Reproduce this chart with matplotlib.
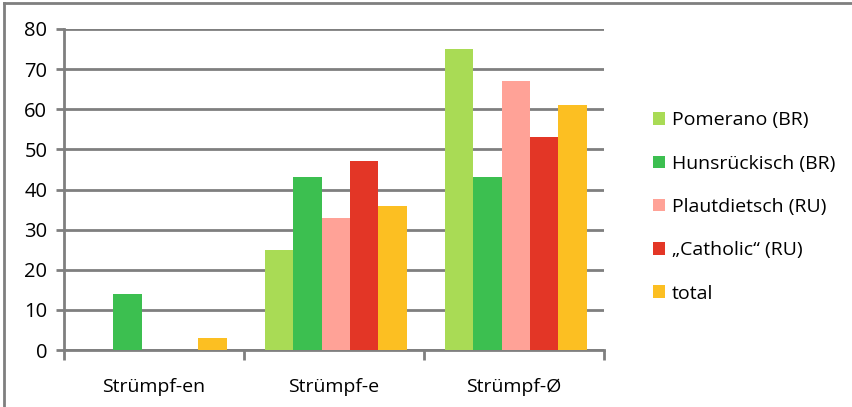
import numpy as np
import matplotlib.pyplot as plt
from matplotlib.lines import Line2D

categories = ['Strümpf-en', 'Strümpf-e', 'Strümpf-Ø']
series = ['Pomerano (BR)', 'Hunsrückisch (BR)', 'Plautdietsch (RU)',
          '„Catholic“ (RU)', 'total']
pomerano = [0, 25, 75]
hunsrueckisch = [14, 43, 43]
plautdietsch = [0, 33, 67]
catholic = [0, 47, 53]
total = [3, 36, 61]
colors = ['#A9DB55', '#3CBF50', '#FFA297', '#E33626', '#FCBF22']

plt.rcParams['font.family'] = ['Open Sans', 'DejaVu Sans']
grey = '#7F7F7F'

fig = plt.figure(figsize=(8.52, 4.07), dpi=100)
ax = fig.add_axes([64 / 852, 1 - 350 / 407, 540 / 852, 321 / 407])

values = [pomerano, hunsrueckisch, plautdietsch, catholic, total]
x = np.arange(len(categories))
w = 0.158
for i, (vals, name, c) in enumerate(zip(values, series, colors)):
    ax.bar(x + (i - 2) * w + 0.01, vals, w, color=c, label=name, zorder=3)

ax.set_xlim(-0.5, 2.5)
ax.set_ylim(0, 80)
ax.set_yticks(range(0, 81, 10))
ax.grid(axis='y', color=grey, linewidth=2, zorder=0)

for s in ['top', 'right']:
    ax.spines[s].set_visible(False)
for s in ['left', 'bottom']:
    ax.spines[s].set_color(grey)
    ax.spines[s].set_linewidth(2)

ax.tick_params(axis='y', length=6, width=2, color=grey, labelsize=14.5, pad=6)
ax.set_xticks([-0.5, 0.5, 1.5, 2.5])
ax.set_xticklabels([])
ax.set_xticks(x, minor=True)
ax.set_xticklabels(categories, minor=True)
ax.tick_params(axis='x', which='major', length=7, width=2, color=grey, direction='out')
ax.tick_params(axis='x', which='minor', length=0, labelsize=14, pad=20)

handles, labels = ax.get_legend_handles_labels()
fig.legend(handles, labels, loc='center left', bbox_to_anchor=(643 / 852, 1 - 207 / 407),
           frameon=False, fontsize=14, borderpad=0, handlelength=0.62, handleheight=0.62,
           handletextpad=0.35, labelspacing=1.3)

# border of the chart box
fig.add_artist(Line2D([4 / 852, 4 / 852], [0, 1 - 3 / 407], color=grey, lw=2,
                      transform=fig.transFigure))
fig.add_artist(Line2D([4 / 852, 1], [1 - 3 / 407, 1 - 3 / 407], color=grey, lw=2,
                      transform=fig.transFigure))

fig.savefig('out.png', dpi=100)
